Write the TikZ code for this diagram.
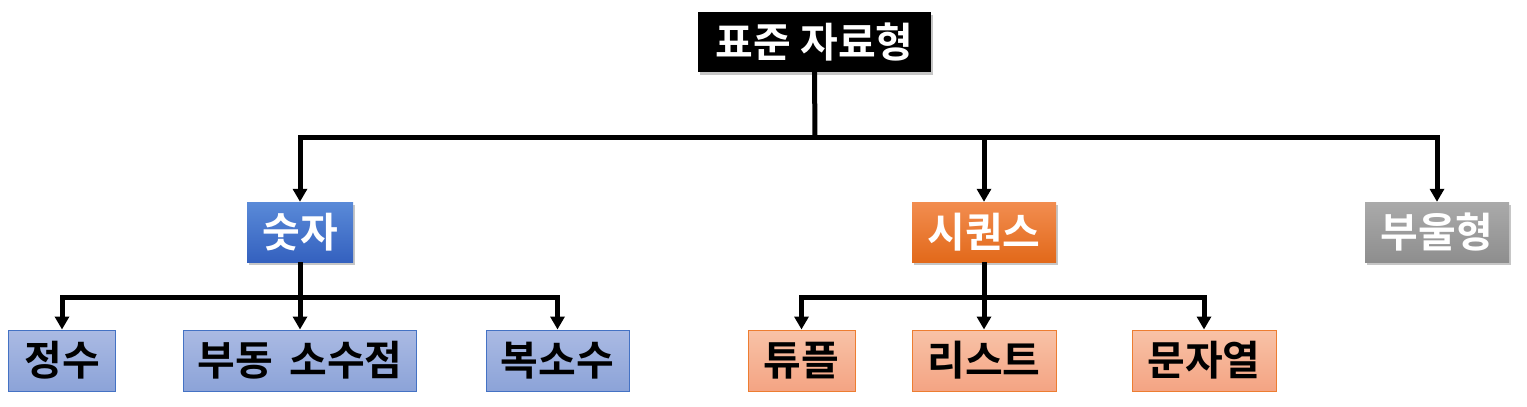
\documentclass[tikz,border=0pt]{standalone}
\usepackage{fontspec}
\setmainfont{Noto Sans CJK KR Bold}
\usetikzlibrary{arrows.meta,shadows}
\definecolor{blueT}{HTML}{5A8AD8}
\definecolor{blueB}{HTML}{3461BF}
\definecolor{orT}{HTML}{F28D50}
\definecolor{orB}{HTML}{E2691A}
\definecolor{grT}{HTML}{AAAAAA}
\definecolor{grB}{HTML}{8E8E8E}
\definecolor{lbT}{HTML}{AABAE3}
\definecolor{lbB}{HTML}{8CA3D8}
\definecolor{lbD}{HTML}{4472C4}
\definecolor{loT}{HTML}{F8C2A7}
\definecolor{loB}{HTML}{F4A483}
\definecolor{loD}{HTML}{ED7D31}
\begin{document}
\begin{tikzpicture}[x=1pt,y=-1pt,
  box/.style={inner sep=0pt, font=\fontsize{41}{44}\selectfont},
  top/.style={box, text=white, drop shadow={shadow xshift=2pt, shadow yshift=-3pt, opacity=0.45}},
  leafb/.style={box, text=black, draw=lbD, line width=1pt, top color=lbT, bottom color=lbB},
  leafo/.style={box, text=black, draw=loD, line width=1pt, top color=loT, bottom color=loB},
  conn/.style={line width=5pt, -{Triangle[length=13pt,width=14pt]}},
  trunk/.style={line width=5pt}]
\useasboundingbox (0,0) rectangle (1527,407);
\node[top, fill=black, minimum width=233pt, minimum height=60pt] (root) at (814.5,42) {표준 자료형};
\node[top, top color=blueT, bottom color=blueB, minimum width=106pt, minimum height=60pt] (num) at (300,232) {숫자};
\node[top, top color=orT, bottom color=orB, minimum width=144pt, minimum height=60pt] (seq) at (984,232) {시퀀스};
\node[top, top color=grT, bottom color=grB, minimum width=144pt, minimum height=60pt] (bool) at (1437,232) {부울형};
\node[leafb, minimum width=107pt, minimum height=61pt] (int) at (62,360.5) {정수};
\node[leafb, minimum width=233pt, minimum height=61pt] (flt) at (300,360.5) {부동\hspace{0.4em}소수점};
\node[leafb, minimum width=143pt, minimum height=61pt] (cpx) at (557.5,360.5) {복소수};
\node[leafo, minimum width=107pt, minimum height=61pt] (tup) at (801.5,360.5) {튜플};
\node[leafo, minimum width=144pt, minimum height=61pt] (lst) at (984,360.5) {리스트};
\node[leafo, minimum width=144pt, minimum height=61pt] (str) at (1204,360.5) {문자열};
\coordinate (j0) at (815,137);
\coordinate (j1) at (300,297);
\coordinate (j2) at (984,297);
\draw[trunk] (root.south) -- (j0);
\draw[conn] (j0) -| (num.north);
\draw[conn] (j0) -| (seq.north);
\draw[conn] (j0) -| (bool.north);
\draw[trunk] (num.south) -- (j1);
\draw[conn] (j1) -| (int.north);
\draw[conn] (j1) -- (flt.north);
\draw[conn] (j1) -| (cpx.north);
\draw[trunk] (seq.south) -- (j2);
\draw[conn] (j2) -| (tup.north);
\draw[conn] (j2) -- (lst.north);
\draw[conn] (j2) -| (str.north);
\end{tikzpicture}
\end{document}
